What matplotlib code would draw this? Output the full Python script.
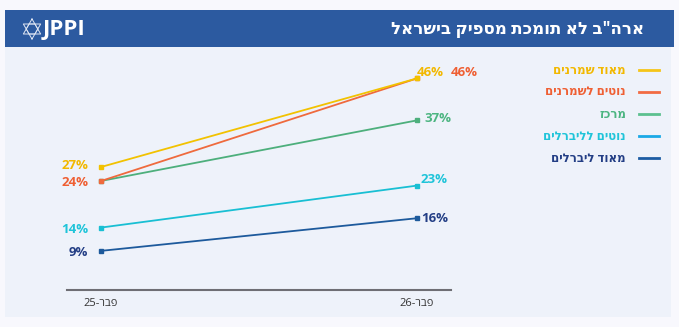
import numpy as np
import matplotlib
matplotlib.use('Agg')
import matplotlib.pyplot as plt
from matplotlib.patches import Rectangle
from matplotlib.lines import Line2D

plt.rcParams['font.family'] = ['Open Sans', 'DejaVu Sans']

# data
title = 'ארה"ב לא תומכת מספיק בישראל'
periods = ['פבר-25', 'פבר-26']
groups = ['מאוד שמרנים', 'נוטים לשמרנים', 'מרכז', 'נוטים לליברלים', 'מאוד ליברלים']
very_cons = [27, 46]
lean_cons = [24, 46]
center = [24, 37]
lean_lib = [14, 23]
very_lib = [9, 16]

# styles
line_colors = ['#f2c200', '#ef6a3d', '#4daf7c', '#19bfd3', '#1d5a9c']
legend_line_colors = ['#f5c518', '#f26b43', '#5cc08f', '#1aa9e6', '#1c5ca3']
text_colors = ['#f2b800', '#ef5f33', '#4cb581', '#1fc4d9', '#233e85']

W, H = 679, 327


def vis(s):
    # matplotlib has no bidi: hebrew glyphs have to be given in visual order
    return s[::-1]


def tick_vis(s):
    word, num = s.split('-')
    return num + '-' + word[::-1]


def fx(x):
    return x / W


def fy(y):
    return 1 - y / H


fig = plt.figure(figsize=(W / 100, H / 100), dpi=100)
fig.patch.set_facecolor('#f8f8fd')

# panel + header
fig.add_artist(Rectangle((fx(5), fy(317)), fx(666), 307 / H, transform=fig.transFigure,
                         facecolor='#eef2fa', edgecolor='none', zorder=0))
fig.add_artist(Rectangle((fx(5), fy(47)), fx(669), 37 / H, transform=fig.transFigure,
                         facecolor='#2c5aa0', edgecolor='none', zorder=0))
fig.text(fx(644), fy(29), vis(title), color='white', fontsize=12, fontweight='bold',
         ha='right', va='center')

# logo
cx, cy, r = 32, 29, 10
ang = np.deg2rad(np.array([90, 210, 330, 90]))
for rot in [0, 180]:
    a = ang + np.deg2rad(rot)
    fig.add_artist(Line2D(fx(cx + r * np.cos(a)), fy(cy - r * np.sin(a)),
                          transform=fig.transFigure, color='#dfe6f3', lw=0.7))
hexa = np.deg2rad(np.arange(0, 361, 60))
fig.add_artist(Line2D(fx(cx + 5.8 * np.cos(hexa)), fy(cy - 5.8 * np.sin(hexa)),
                      transform=fig.transFigure, color='#dfe6f3', lw=0.6))
fig.text(fx(43), fy(30), 'JPPI', color='white', fontsize=16, fontweight='bold',
         ha='left', va='center')

# chart
ax = fig.add_axes([fx(67), fy(290), 384 / W, 233 / H])
ax.patch.set_alpha(0)
series = [very_cons, lean_cons, center, lean_lib, very_lib]
x = np.arange(len(periods))
zorders = [5, 4, 3, 3, 3]
for vals, c, z in zip(series, line_colors, zorders):
    ax.plot(x, vals, color=c, lw=1.3, marker='s', ms=3.5, zorder=z)

ax.set_xlim(-0.108, 1.108)
ax.set_ylim(0.6, 50.6)
ax.set_xticks(x)
ax.set_xticklabels([tick_vis(p) for p in periods], fontsize=8, color='#333333')
ax.tick_params(axis='x', length=0, pad=6)
ax.set_yticks([])
for s in ['top', 'left', 'right']:
    ax.spines[s].set_visible(False)
ax.spines['bottom'].set_color('#6e6e74')
ax.spines['bottom'].set_linewidth(1.5)

# value labels
left_dy = [1, -2, 0, -2, -2]
right_dx = [0, 34, 8, 4, 4]
right_dy = [6, 6, 2, 6, 0]
for i, vals in enumerate(series):
    if i != 2:
        ax.annotate(f'{vals[0]}%', (x[0], vals[0]), xytext=(-13, left_dy[i]),
                    textcoords='offset pixels', ha='right', va='center',
                    color=text_colors[i], fontsize=9.5, fontweight='bold')
    ax.annotate(f'{vals[1]}%', (x[1], vals[1]), xytext=(right_dx[i], right_dy[i]),
                textcoords='offset pixels', ha='left', va='center',
                color=text_colors[i], fontsize=9.5, fontweight='bold', zorder=6)

# legend
for i, g in enumerate(groups):
    yy = 70 + i * 22
    fig.add_artist(Line2D([fx(639), fx(659)], [fy(yy), fy(yy)], transform=fig.transFigure,
                          color=legend_line_colors[i], lw=2))
    fig.text(fx(626), fy(yy), vis(g), color=text_colors[i], fontsize=8.5,
             fontweight='bold', ha='right', va='center')

fig.savefig('out.png', dpi=100, facecolor=fig.get_facecolor())
